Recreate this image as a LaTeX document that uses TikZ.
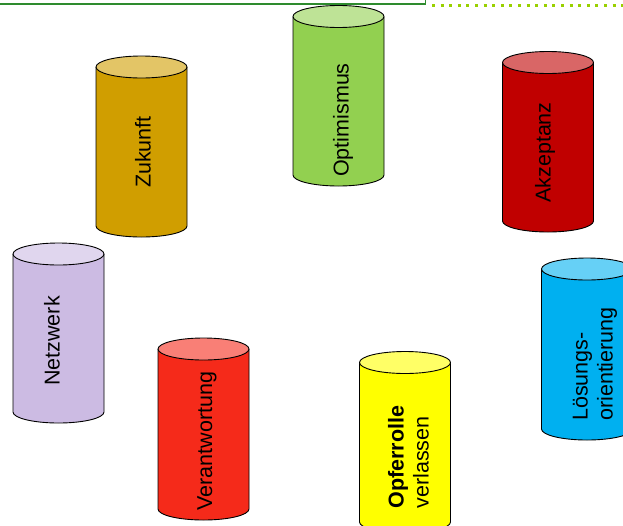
\documentclass[tikz,border=0pt]{standalone}
\usepackage{fontspec}
\setmainfont{Liberation Sans}
\definecolor{cOpt}{HTML}{92D050}
\definecolor{cZuk}{HTML}{D09E00}
\definecolor{cAkz}{HTML}{C00000}
\definecolor{cNet}{HTML}{CCBBE3}
\definecolor{cVer}{HTML}{F52A1A}
\definecolor{cOpf}{HTML}{FFFF00}
\definecolor{cLoe}{HTML}{00B0F0}
\definecolor{frameGreen}{HTML}{2E8B2E}
\definecolor{dotGreen}{HTML}{99D000}
\newcommand{\cylshape}[5]{%
  % #1 centre x, #2 top centre y, #3 bottom centre y, #4 colour
  \fill[#4] ({#1-45.5},{-#2}) -- ({#1-45.5},{-#3}) arc[start angle=180,end angle=360,x radius=45.5,y radius=11] -- ({#1+45.5},{-#2}) -- cycle;
  \draw[cyledge] ({#1-45.5},{-#2}) -- ({#1-45.5},{-#3}) arc[start angle=180,end angle=360,x radius=45.5,y radius=11] -- ({#1+45.5},{-#2});
  \filldraw[cyledge,fill=#4!60!white] ({#1},{-#2}) ellipse[x radius=45.5,y radius=11];
  #5
}
\begin{document}
\begin{tikzpicture}[x=1pt,y=1pt,
  cyledge/.style={draw=black,line width=0.9pt},
  cyltext/.style={rotate=90,inner sep=0pt,font=\fontsize{21.5}{25}\selectfont,align=left}]
\useasboundingbox (0,0) rectangle (623,-525);
\clip (0,0) rectangle (623,-525);
\fill[white] (0,0) rectangle (623,-525);
% top frame and dotted line
\draw[frameGreen,line width=1.5pt] (-5,5) -- (-5,-4) -- (425.5,-4) -- (425.5,5);
\draw[dotGreen,line width=3pt,dash pattern=on 3pt off 5.6pt] (432,-5.8) -- (623,-5.8);
% cylinders
\cylshape{338.5}{16.5}{175}{cOpt}{}
\cylshape{141.5}{67}{226}{cZuk}{}
\cylshape{548}{62.5}{221}{cAkz}{}
\cylshape{58.5}{254}{412}{cNet}{}
\cylshape{203.5}{349}{509}{cVer}{}
\cylshape{405}{362.5}{522}{cOpf}{}
\cylshape{587}{269}{429}{cLoe}{}
% labels
\node[cyltext] (opt) at (343,-120) {Optimismus};
\node[cyltext] (zuk) at (143,-152) {Zukunft};
\node[cyltext] (akz) at (545,-152.5) {Akzeptanz};
\node[cyltext] (net) at (52,-341) {Netzwerk};
\node[cyltext] (ver) at (207,-441) {Verantwortung};
\node[cyltext] (opf) at (408.5,-457) {\textbf{Opferrolle}\\verlassen};
\node[cyltext] (loe) at (595,-364) {Lösungs-\\orientierung};
\end{tikzpicture}
\end{document}
